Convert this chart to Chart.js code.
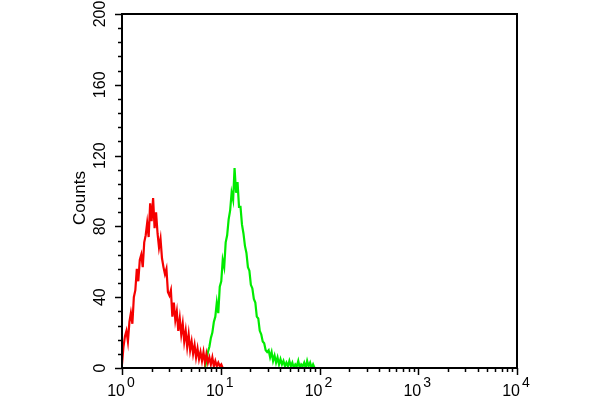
<!DOCTYPE html>
<html>
<head>
<meta charset="utf-8">
<script src="https://cdn.jsdelivr.net/npm/chart.js@4.4.1/dist/chart.umd.min.js"></script>
<style>
html,body{margin:0;padding:0;background:#fff;}
canvas{display:block;}
</style>
</head>
<body>
<canvas id="c" width="600" height="400"></canvas>
<script>
// Red histogram (control): fluorescence channel values and counts
const redX = [1.000,1.035,1.072,1.109,1.148,1.189,1.230,1.274,1.318,1.365,1.413,1.462,1.514,1.567,1.622,1.679,1.738,1.799,1.862,1.928,1.995,2.065,2.138,2.213,2.291,2.371,2.455,2.541,2.630,2.723,2.818,2.917,3.020,3.126,3.236,3.350,3.467,3.589,3.715,3.846,3.981,4.121,4.266,4.416,4.571,4.732,4.898,5.070,5.248,5.433,5.623,5.821,6.026,6.237,6.457,6.683,6.918,7.161,7.413,7.674,7.943,8.222,8.511,8.810,9.120,9.441,9.772,10.12,10.47];
const redY = [2,12,18,21,15,26,31,25,40,44,56,49,61,64,57,71,75,82,74,93,83,96,79,88,76,68,73,62,57,53,56,43,41,44,29,37,27,32,21,28,19,25,15,21,12,19,10,15,8,13,6,11,5,9,4,9,3,8,3,6,2,6,1,4,1,3,1,2,0];
// Green histogram (sample)
const greenX = [6.918,7.161,7.413,7.674,7.943,8.222,8.511,8.810,9.120,9.441,9.772,10.12,10.47,10.84,11.22,11.61,12.02,12.45,12.88,13.34,13.80,14.29,14.79,15.31,15.85,16.41,16.98,17.58,18.20,18.84,19.50,20.18,20.89,21.63,22.39,23.17,23.99,24.83,25.70,26.61,27.54,28.51,29.51,30.55,31.62,32.73,33.88,35.08,36.31,37.58,38.90,40.27,41.69,43.15,44.67,46.24,47.86,49.55,51.29,53.09,54.95,56.89,58.88,60.95,63.10,65.31,67.61,69.98,72.44,74.99,77.62,80.35,83.18,86.10,89.13];
const greenY = [0,4,9,12,17,20,26,29,37,31,46,49,61,57,71,75,84,89,99,95,113,99,105,91,91,81,76,69,65,57,55,47,45,39,37,29,28,21,19,15,14,10,9,10,6,9,4,7,3,6,2,5,2,4,1,3,1,4,1,3,0,2,1,4,0,2,1,3,0,4,1,3,0,2,0];
// Axis ticks
const yTickValues = [0,40,80,120,160,200];
const xDecades = [0,1,2,3,4];
const yAxisTitle = 'Counts';

const toPts = (xs, ys) => xs.map((x, i) => ({x: x, y: ys[i]}));

const axesPlugin = {
  id: 'axesPlugin',
  afterDraw(chart) {
    const ctx = chart.ctx;
    const xs = chart.scales.x, ys = chart.scales.y;
    const a = chart.chartArea;
    ctx.save();
    ctx.strokeStyle = '#000';
    ctx.fillStyle = '#000';
    // box
    ctx.lineWidth = 2;
    ctx.strokeRect(a.left, a.top, a.right - a.left, a.bottom - a.top);
    ctx.lineWidth = 1.5;
    // y ticks (minor every 8)
    for (let v = 0; v <= 200; v += 8) {
      const py = Math.round(ys.getPixelForValue(v)) + 0.5;
      const len = (v % 40 === 0) ? 7 : 4;
      ctx.beginPath();
      ctx.moveTo(a.left, py);
      ctx.lineTo(a.left - len, py);
      ctx.stroke();
    }
    // x ticks
    for (let d = 0; d < 4; d++) {
      for (let m = 1; m <= 9; m++) {
        const v = m * Math.pow(10, d);
        const px = Math.round(xs.getPixelForValue(v)) + 0.5;
        const len = (m === 1) ? 7 : 4;
        ctx.beginPath();
        ctx.moveTo(px, a.bottom);
        ctx.lineTo(px, a.bottom + len);
        ctx.stroke();
      }
    }
    {
      const px = Math.round(xs.getPixelForValue(10000)) + 0.5;
      ctx.beginPath();
      ctx.moveTo(px, a.bottom);
      ctx.lineTo(px, a.bottom + 7);
      ctx.stroke();
    }
    // y labels rotated
    ctx.font = '16px "Liberation Sans", Arial, sans-serif';
    ctx.textAlign = 'center';
    ctx.textBaseline = 'middle';
    yTickValues.forEach(v => {
      const py = ys.getPixelForValue(v);
      ctx.save();
      ctx.translate(101, py);
      ctx.rotate(-Math.PI / 2);
      ctx.fillText(String(v), 0, 0);
      ctx.restore();
    });
    // y title
    ctx.save();
    ctx.font = '17px "Liberation Sans", Arial, sans-serif';
    ctx.translate(80, 198);
    ctx.rotate(-Math.PI / 2);
    ctx.fillText(yAxisTitle, 0, 0);
    ctx.restore();
    // x labels 10^n
    xDecades.forEach(n => {
      const px = xs.getPixelForValue(Math.pow(10, n));
      ctx.font = '16px "Liberation Sans", Arial, sans-serif';
      ctx.textAlign = 'right';
      ctx.textBaseline = 'alphabetic';
      ctx.fillText('10', px + 3, 396);
      ctx.font = '14px "Liberation Sans", Arial, sans-serif';
      ctx.textAlign = 'left';
      ctx.fillText(String(n), px + 5, 387);
    });
    ctx.restore();
  }
};

new Chart(document.getElementById('c'), {
  type: 'line',
  data: {
    datasets: [
      {label: 'Control', data: toPts(redX, redY), borderColor: 'rgb(245,0,0)', borderWidth: 2.2, pointRadius: 0, tension: 0, fill: false},
      {label: 'Sample', data: toPts(greenX, greenY), borderColor: 'rgb(0,235,0)', borderWidth: 2.2, pointRadius: 0, tension: 0, fill: false}
    ]
  },
  options: {
    responsive: false,
    animation: false,
    layout: {padding: {left: 122, top: 14, right: 83, bottom: 32}},
    plugins: {legend: {display: false}, tooltip: {enabled: false}},
    scales: {
      x: {type: 'logarithmic', min: 1, max: 10000, display: false},
      y: {type: 'linear', min: 0, max: 200, display: false}
    }
  },
  plugins: [axesPlugin]
});
</script>
</body>
</html>
